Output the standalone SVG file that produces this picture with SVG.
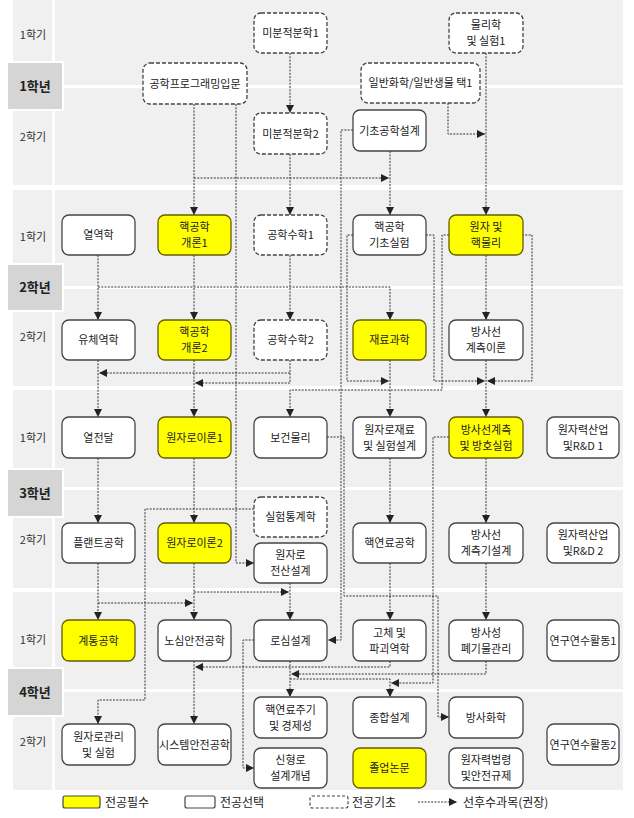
<svg xmlns="http://www.w3.org/2000/svg" width="634" height="818" viewBox="0 0 634 818">
<style>
.bg{fill:#f0f0f0}
.wl{fill:#ffffff}
.yr{fill:#d5d5d5;stroke:#ffffff;stroke-width:2}
.sem{font-family:"Noto Sans CJK KR","Noto Sans",sans-serif;font-size:11px;fill:#333;text-anchor:middle}
.yt{font-family:"Noto Sans CJK KR","Noto Sans",sans-serif;font-size:13px;font-weight:bold;fill:#222;text-anchor:middle}
.n rect{fill:#ffffff;stroke:#444;stroke-width:1.3}
.n.req rect{fill:#ffff00;stroke:#665f00}
.n.bas rect{stroke-dasharray:4,2}
.n text,.lg text{font-family:"Noto Sans CJK KR","Noto Sans",sans-serif;font-size:11px;fill:#222;text-anchor:middle}
.lg text{text-anchor:start;font-size:12px}
#connectors path{fill:none;stroke:#333;stroke-width:1;stroke-dasharray:2,1.3}
</style>
<defs>
<marker id="ah" viewBox="0 0 8 8" refX="8" refY="4" markerWidth="8" markerHeight="8" markerUnits="userSpaceOnUse" orient="auto">
<path d="M0,0 L8,4 L0,8 Z" fill="#222"/>
</marker>
</defs>

<!-- background bands -->
<g id="background">
<rect class="bg" x="13" y="0" width="39" height="185"/>
<rect class="bg" x="55" y="0" width="568" height="185"/>
<rect class="bg" x="13" y="190" width="39" height="196"/>
<rect class="bg" x="55" y="190" width="568" height="196"/>
<rect class="bg" x="13" y="390" width="39" height="198"/>
<rect class="bg" x="55" y="390" width="568" height="198"/>
<rect class="bg" x="13" y="592" width="39" height="198"/>
<rect class="bg" x="55" y="592" width="568" height="198"/>
<rect class="wl" x="13" y="85" width="610" height="3"/>
<rect class="wl" x="13" y="286" width="610" height="3"/>
<rect class="wl" x="13" y="487" width="610" height="3"/>
<rect class="wl" x="13" y="689" width="610" height="3"/>
<rect class="yr" x="7" y="62" width="56" height="48"/>
<rect class="yr" x="7" y="264" width="56" height="47"/>
<rect class="yr" x="7" y="469" width="56" height="48"/>
<rect class="yr" x="7" y="668" width="56" height="48"/>
<text class="yt" x="35" y="91">1학년</text>
<text class="yt" x="35" y="292">2학년</text>
<text class="yt" x="35" y="498">3학년</text>
<text class="yt" x="35" y="697">4학년</text>
<text class="sem" x="33" y="39">1학기</text>
<text class="sem" x="33" y="141">2학기</text>
<text class="sem" x="33" y="241">1학기</text>
<text class="sem" x="33" y="341">2학기</text>
<text class="sem" x="33" y="442">1학기</text>
<text class="sem" x="33" y="544">2학기</text>
<text class="sem" x="33" y="644">1학기</text>
<text class="sem" x="33" y="746">2학기</text>
</g>

<g id="connectors">
<path d="M290,53 V113" marker-end="url(#ah)"/>
<path d="M290,154 V215" marker-end="url(#ah)"/>
<path d="M290,255 V320" marker-end="url(#ah)"/>
<path d="M194,104 V215" marker-end="url(#ah)"/>
<path d="M194,178 H389" marker-end="url(#ah)"/>
<path d="M390,151 V215" marker-end="url(#ah)"/>
<path d="M236,104 V563 H254" marker-end="url(#ah)"/>
<path d="M486,53 V215" marker-end="url(#ah)"/>
<path d="M448,103 V134 H485" marker-end="url(#ah)"/>
<path d="M353,130 H341 V640 H328" marker-end="url(#ah)"/>
<path d="M98,255 V320" marker-end="url(#ah)"/>
<path d="M98,287 H390 V320" marker-end="url(#ah)"/>
<path d="M194,255 V320" marker-end="url(#ah)"/>
<path d="M353,235 H347 V381 H389" marker-end="url(#ah)"/>
<path d="M426,235 H434 V381 H485" marker-end="url(#ah)"/>
<path d="M449,235 H442 V390 H290 V417" marker-end="url(#ah)"/>
<path d="M522,235 H532 V381 H487" marker-end="url(#ah)"/>
<path d="M486,255 V320" marker-end="url(#ah)"/>
<path d="M290,360 V383 H195" marker-end="url(#ah)"/>
<path d="M290,373 H99" marker-end="url(#ah)"/>
<path d="M98,360 V417" marker-end="url(#ah)"/>
<path d="M194,360 V417" marker-end="url(#ah)"/>
<path d="M390,360 V417" marker-end="url(#ah)"/>
<path d="M486,360 V417" marker-end="url(#ah)"/>
<path d="M98,458 V523" marker-end="url(#ah)"/>
<path d="M194,458 V523" marker-end="url(#ah)"/>
<path d="M327,437 H344 V596 H438 V717 H449" marker-end="url(#ah)"/>
<path d="M449,437 H433 V683 H391" marker-end="url(#ah)"/>
<path d="M390,458 V523" marker-end="url(#ah)"/>
<path d="M486,458 V523" marker-end="url(#ah)"/>
<path d="M254,509 H145 V700 H98 V724" marker-end="url(#ah)"/>
<path d="M194,563 V620" marker-end="url(#ah)"/>
<path d="M194,592 H289" marker-end="url(#ah)"/>
<path d="M290,583 V620" marker-end="url(#ah)"/>
<path d="M98,563 V620" marker-end="url(#ah)"/>
<path d="M98,603 H193" marker-end="url(#ah)"/>
<path d="M390,563 V620" marker-end="url(#ah)"/>
<path d="M486,563 V620" marker-end="url(#ah)"/>
<path d="M194,661 V724" marker-end="url(#ah)"/>
<path d="M254,640 H243 V768 H254" marker-end="url(#ah)"/>
<path d="M290,661 V697" marker-end="url(#ah)"/>
<path d="M390,661 V667 H195" marker-end="url(#ah)"/>
<path d="M486,661 V674 H291" marker-end="url(#ah)"/>
<path d="M290,679 H390 V697" marker-end="url(#ah)"/>
</g>

<!-- Year 1 -->
<g id="calc1" class="n bas"><rect x="254" y="13" width="73" height="40" rx="7"/><text x="290.5" y="37">미분적분학1</text></g>
<g id="phys1" class="n bas"><rect x="449" y="13" width="74" height="40" rx="7"/><text x="486" y="29">물리학</text><text x="486" y="45">및 실험1</text></g>
<g id="prog" class="n bas"><rect x="143" y="63" width="104" height="41" rx="7"/><text x="195" y="87.5">공학프로그래밍입문</text></g>
<g id="chem" class="n bas"><rect x="361" y="63" width="119" height="40" rx="7"/><text x="420.5" y="87">일반화학/일반생물 택1</text></g>
<g id="calc2" class="n bas"><rect x="254" y="113" width="73" height="41" rx="7"/><text x="290.5" y="137.5">미분적분학2</text></g>
<g id="basicdesign" class="n"><rect x="353" y="110" width="73" height="41" rx="7"/><text x="389.5" y="134.5">기초공학설계</text></g>

<!-- Year 2 -->
<g id="thermo" class="n"><rect x="62" y="215" width="73" height="40" rx="7"/><text x="98.5" y="239">열역학</text></g>
<g id="intro1" class="n req"><rect x="158" y="215" width="73" height="40" rx="7"/><text x="194.5" y="231">핵공학</text><text x="194.5" y="247">개론1</text></g>
<g id="math1" class="n bas"><rect x="254" y="215" width="73" height="40" rx="7"/><text x="290.5" y="239">공학수학1</text></g>
<g id="nelab" class="n"><rect x="353" y="215" width="73" height="40" rx="7"/><text x="389.5" y="231">핵공학</text><text x="389.5" y="247">기초실험</text></g>
<g id="atomic" class="n req"><rect x="449" y="215" width="74" height="40" rx="7"/><text x="486" y="231">원자 및</text><text x="486" y="247">핵물리</text></g>
<g id="fluid" class="n"><rect x="62" y="320" width="73" height="40" rx="7"/><text x="98.5" y="344">유체역학</text></g>
<g id="intro2" class="n req"><rect x="158" y="320" width="73" height="40" rx="7"/><text x="194.5" y="336">핵공학</text><text x="194.5" y="352">개론2</text></g>
<g id="math2" class="n bas"><rect x="254" y="320" width="73" height="40" rx="7"/><text x="290.5" y="344">공학수학2</text></g>
<g id="material" class="n req"><rect x="353" y="320" width="73" height="40" rx="7"/><text x="389.5" y="344">재료과학</text></g>
<g id="radtheory" class="n"><rect x="449" y="320" width="74" height="40" rx="7"/><text x="486" y="336">방사선</text><text x="486" y="352">계측이론</text></g>

<!-- Year 3 -->
<g id="heat" class="n"><rect x="62" y="417" width="73" height="41" rx="7"/><text x="98.5" y="441.5">열전달</text></g>
<g id="reactor1" class="n req"><rect x="158" y="417" width="73" height="41" rx="7"/><text x="194.5" y="441.5">원자로이론1</text></g>
<g id="health" class="n"><rect x="254" y="417" width="73" height="41" rx="7"/><text x="290.5" y="441.5">보건물리</text></g>
<g id="rmat" class="n"><rect x="353" y="417" width="73" height="41" rx="7"/><text x="389.5" y="433.5">원자로재료</text><text x="389.5" y="449.5">및 실험설계</text></g>
<g id="radlab" class="n req"><rect x="449" y="417" width="74" height="41" rx="7"/><text x="486" y="433.5">방사선계측</text><text x="486" y="449.5">및 방호실험</text></g>
<g id="ind1" class="n"><rect x="547" y="417" width="72" height="41" rx="7"/><text x="583" y="433.5">원자력산업</text><text x="583" y="449.5">및R&amp;D 1</text></g>
<g id="plant" class="n"><rect x="62" y="523" width="73" height="40" rx="7"/><text x="98.5" y="547">플랜트공학</text></g>
<g id="reactor2" class="n req"><rect x="158" y="523" width="73" height="40" rx="7"/><text x="194.5" y="547">원자로이론2</text></g>
<g id="stat" class="n bas"><rect x="254" y="497" width="73" height="40" rx="7"/><text x="290.5" y="521">실험통계학</text></g>
<g id="compdesign" class="n"><rect x="254" y="543" width="73" height="40" rx="7"/><text x="290.5" y="559">원자로</text><text x="290.5" y="575">전산설계</text></g>
<g id="fuel" class="n"><rect x="353" y="523" width="73" height="40" rx="7"/><text x="389.5" y="547">핵연료공학</text></g>
<g id="detdesign" class="n"><rect x="449" y="523" width="74" height="40" rx="7"/><text x="486" y="539">방사선</text><text x="486" y="555">계측기설계</text></g>
<g id="ind2" class="n"><rect x="547" y="523" width="72" height="40" rx="7"/><text x="583" y="539">원자력산업</text><text x="583" y="555">및R&amp;D 2</text></g>

<!-- Year 4 -->
<g id="system" class="n req"><rect x="62" y="620" width="73" height="41" rx="7"/><text x="98.5" y="644.5">계통공학</text></g>
<g id="coresafety" class="n"><rect x="158" y="620" width="73" height="41" rx="7"/><text x="194.5" y="644.5">노심안전공학</text></g>
<g id="coredesign" class="n"><rect x="254" y="620" width="73" height="41" rx="7"/><text x="290.5" y="644.5">로심설계</text></g>
<g id="solid" class="n"><rect x="353" y="620" width="73" height="41" rx="7"/><text x="389.5" y="636.5">고체 및</text><text x="389.5" y="652.5">파괴역학</text></g>
<g id="waste" class="n"><rect x="449" y="620" width="74" height="41" rx="7"/><text x="486" y="636.5">방사성</text><text x="486" y="652.5">폐기물관리</text></g>
<g id="research1" class="n"><rect x="547" y="620" width="72" height="41" rx="7"/><text x="583" y="644.5">연구연수활동1</text></g>
<g id="reactmgmt" class="n"><rect x="62" y="724" width="73" height="41" rx="7"/><text x="98.5" y="740.5">원자로관리</text><text x="98.5" y="756.5">및 실험</text></g>
<g id="syssafety" class="n"><rect x="158" y="724" width="73" height="41" rx="7"/><text x="194.5" y="748.5">시스템안전공학</text></g>
<g id="fuelcycle" class="n"><rect x="254" y="697" width="73" height="41" rx="7"/><text x="290.5" y="713.5">핵연료주기</text><text x="290.5" y="729.5">및 경제성</text></g>
<g id="advreactor" class="n"><rect x="254" y="748" width="73" height="40" rx="7"/><text x="290.5" y="764">신형로</text><text x="290.5" y="780">설계개념</text></g>
<g id="capstone" class="n"><rect x="353" y="697" width="73" height="41" rx="7"/><text x="389.5" y="721.5">종합설계</text></g>
<g id="thesis" class="n req"><rect x="353" y="748" width="73" height="40" rx="7"/><text x="389.5" y="772">졸업논문</text></g>
<g id="radchem" class="n"><rect x="449" y="697" width="74" height="41" rx="7"/><text x="486" y="721.5">방사화학</text></g>
<g id="law" class="n"><rect x="449" y="748" width="74" height="40" rx="7"/><text x="486" y="764">원자력법령</text><text x="486" y="780">및안전규제</text></g>
<g id="research2" class="n"><rect x="547" y="724" width="72" height="41" rx="7"/><text x="583" y="748.5">연구연수활동2</text></g>

<!-- legend -->
<g id="legend" class="lg">
<rect x="63" y="796" width="37" height="12" rx="2" fill="#ffff00" stroke="#444" stroke-width="1.2"/>
<text x="105" y="807">전공필수</text>
<rect x="185" y="796" width="30" height="12" rx="2" fill="#ffffff" stroke="#444" stroke-width="1.2"/>
<text x="220" y="807">전공선택</text>
<rect x="310" y="796" width="38" height="12" rx="2" fill="#ffffff" stroke="#444" stroke-width="1.2" stroke-dasharray="3,2"/>
<text x="352" y="807">전공기초</text>
<path d="M418,802 H457" fill="none" stroke="#333" stroke-width="1" stroke-dasharray="2,1.3" marker-end="url(#ah)"/>
<text x="463" y="807">선후수과목(권장)</text>
</g>
</svg>
